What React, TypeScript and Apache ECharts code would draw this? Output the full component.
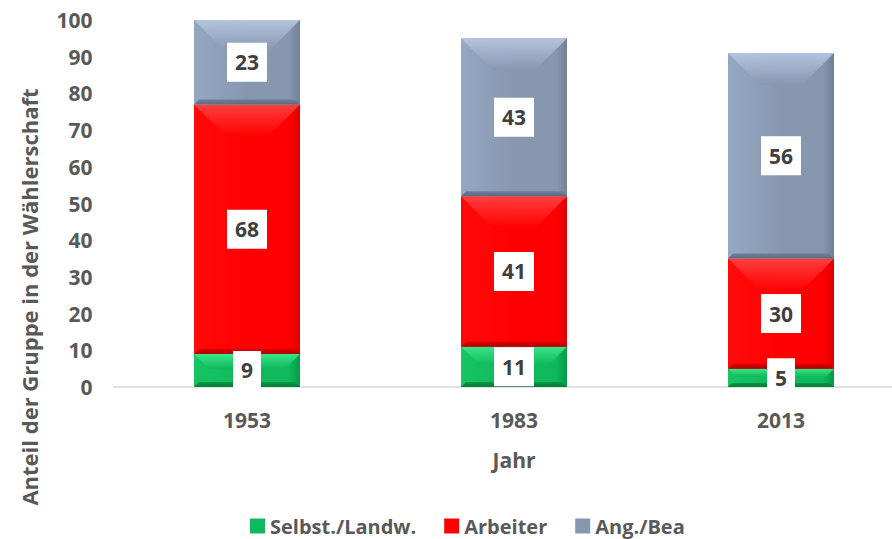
import React, { useEffect, useRef } from "react";
import * as echarts from "echarts";

const years = ["1953", "1983", "2013"];
const seriesNames = ["Selbst./Landw.", "Arbeiter", "Ang./Bea"];
const selbst = [9, 11, 5];
const arbeiter = [68, 41, 30];
const angestellte = [23, 43, 56];
const yTicks = { min: 0, max: 100, interval: 10 };

const layers = [selbst, arbeiter, angestellte];

const palettes = [
  { main: "#0FB85A", light: "#3CEB90", left: "#16C464", right: "#049A47", dark: "#007A35" },
  { main: "#FF0000", light: "#FF4545", left: "#FF0A0A", right: "#DD0000", dark: "#B00000" },
  { main: "#8797B0", light: "#B8C8E2", left: "#96A7C1", right: "#6F7F98", dark: "#5C6B82" },
];

const FONT = "'Open Sans', sans-serif";
const GREY = "#595959";

function buildData(layerIndex: number) {
  return years.map((_, i) => {
    let base = 0;
    for (let k = 0; k < layerIndex; k++) base += layers[k][i];
    return [i, layers[layerIndex][i], base];
  });
}

function lg(x2: number, y2: number, stops: [number, string][]) {
  return new echarts.graphic.LinearGradient(
    0,
    0,
    x2,
    y2,
    stops.map(([offset, color]) => ({ offset, color }))
  );
}

function makeBarRender(pal: (typeof palettes)[number]) {
  return (params: any, api: any) => {
    const idx = api.value(0);
    const val = api.value(1);
    const base = api.value(2);
    const p0 = api.coord([idx, base]);
    const p1 = api.coord([idx, base + val]);
    const bw = api.size([1, 0])[0] * 0.397;
    const x0 = p0[0] - bw / 2;
    const x1 = p0[0] + bw / 2;
    const yb = p0[1];
    const yt = p1[1];
    const h = yb - yt;
    const d = Math.min(32, h * 0.45, bw / 2);
    const db = Math.min(5, h * 0.22);
    return {
      type: "group",
      children: [
        {
          type: "rect",
          shape: { x: x0, y: yt, width: bw, height: h },
          style: {
            fill: lg(1, 0, [
              [0, pal.left],
              [0.5, pal.main],
              [0.9, pal.main],
              [1, pal.right],
            ]),
          },
        },
        {
          type: "polygon",
          shape: { points: [[x0, yt], [x1, yt], [x1 - d, yt + d], [x0 + d, yt + d]] },
          style: {
            fill: lg(0, 1, [
              [0, pal.light],
              [1, pal.main],
            ]),
            opacity: 0.9,
          },
        },
        {
          type: "polygon",
          shape: { points: [[x0, yb], [x1, yb], [x1 - db, yb - db], [x0 + db, yb - db]] },
          style: {
            fill: lg(0, 1, [
              [0, pal.right],
              [1, pal.dark],
            ]),
          },
        },
      ],
    };
  };
}

function labelRender(params: any, api: any) {
  const idx = api.value(0);
  const val = api.value(1);
  const base = api.value(2);
  const p0 = api.coord([idx, base]);
  const p1 = api.coord([idx, base + val]);
  return {
    type: "text",
    x: p0[0],
    y: (p0[1] + p1[1]) / 2,
    style: {
      text: String(val),
      fill: "#404040",
      fontFamily: FONT,
      fontWeight: "bold",
      fontSize: 21,
      lineHeight: 21,
      align: "center",
      verticalAlign: "middle",
      backgroundColor: "#FFFFFF",
      padding: [9, 8, 9, 8],
    },
  };
}

export default function App() {
  const ref = useRef<HTMLDivElement>(null);
  useEffect(() => {
    if (!ref.current) return;
    const chart = echarts.init(ref.current, undefined, { renderer: "svg" });
    const barSeries = layers.map((_, li) => ({
      type: "custom",
      name: seriesNames[li],
      data: buildData(li),
      encode: { x: 0, y: 1 },
      itemStyle: { color: palettes[li].main },
      renderItem: makeBarRender(palettes[li]),
      z: 2,
    }));
    const labelSeries = layers.map((_, li) => ({
      type: "custom",
      name: "label" + li,
      data: buildData(li),
      encode: { x: 0, y: 1 },
      renderItem: labelRender,
      z: 10,
      silent: true,
    }));
    chart.setOption({
      animation: false,
      backgroundColor: "#FFFFFF",
      grid: { left: 113.5, width: 801, top: 20, bottom: 152, outerBoundsMode: "none", containLabel: false },
      legend: {
        data: seriesNames,
        left: 250,
        top: 516,
        padding: 0,
        icon: "rect",
        itemWidth: 15,
        itemHeight: 15,
        itemGap: 28,
        textStyle: {
          fontFamily: FONT,
          fontWeight: "bold",
          fontSize: 20,
          lineHeight: 20,
          color: GREY,
        },
      },
      xAxis: {
        type: "category",
        data: years,
        axisLine: { lineStyle: { color: "#D9D9D9", width: 1.5 } },
        axisTick: { show: false },
        axisLabel: { fontFamily: FONT, fontWeight: "bold", fontSize: 21, color: GREY, margin: 22 },
        name: "Jahr",
        nameLocation: "middle",
        nameGap: 62,
        nameTextStyle: { fontFamily: FONT, fontWeight: "bold", fontSize: 21, color: GREY },
      },
      yAxis: {
        type: "value",
        min: yTicks.min,
        max: yTicks.max,
        interval: yTicks.interval,
        axisLine: { show: false },
        axisTick: { show: false },
        splitLine: { show: false },
        axisLabel: { fontFamily: FONT, fontWeight: "bold", fontSize: 21, color: GREY, margin: 21 },
      },
      graphic: [
        {
          type: "text",
          x: 29,
          y: 297,
          rotation: Math.PI / 2,
          style: {
            text: "Anteil der Gruppe in der Wählerschaft",
            fontFamily: FONT,
            fontWeight: "bold",
            fontSize: 22,
            fill: GREY,
            align: "center",
            verticalAlign: "middle",
          },
        },
      ],
      series: [...barSeries, ...labelSeries],
    });
    return () => chart.dispose();
  }, []);
  return (
    <div
      ref={ref}
      style={{ position: "fixed", left: 0, top: 0, width: 892, height: 539 }}
    />
  );
}
